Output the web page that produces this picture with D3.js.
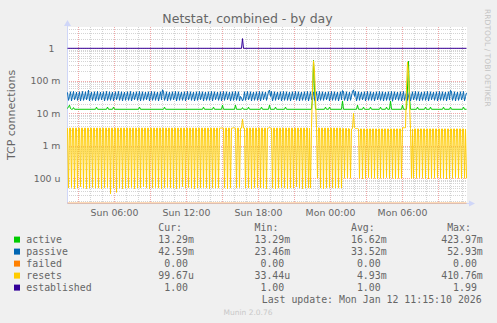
<!DOCTYPE html>
<html>
<head>
<meta charset="utf-8">
<script src="https://cdn.jsdelivr.net/npm/d3@7"></script>
<style>
body { margin: 0; background: #f0f0f0; }
svg { display: block; }
text { font-family: "DejaVu Sans", sans-serif; fill: #666; }
.mono text { font-family: "DejaVu Sans Mono", monospace; white-space: pre; }
</style>
</head>
<body>
<div id="chart"></div>
<script>
// 5 minute samples, first one at Sun 02:05
const startTime = new Date(2026, 0, 11, 2, 5);
const stepMs = 5 * 60 * 1000;

// passive, per sample, in milli
const passive = [
  44,25,33, 46,24,34, 47,26,32, 45,25,33, 46,24,34, 47,25,32, 46,26,33, 52,24,34, 45,25,33, 46,24,32,
  47,25,33, 45,26,34, 46,24,33, 47,25,32, 46,25,34, 45,24,33, 46,26,33, 47,25,32, 46,24,34, 45,25,33,
  46,25,33, 47,24,32, 45,26,34, 46,25,33, 47,24,33, 46,25,32, 45,26,34, 46,24,33, 47,25,32, 46,25,34,
  45,24,33, 46,26,52.9, 47,25,32, 46,24,34, 45,25,33, 46,26,32, 47,24,33, 46,25,34, 45,25,33, 46,24,32,
  47,26,33, 46,25,34, 45,24,32, 46,25,33, 47,26,34, 46,24,33, 45,25,32, 46,25,33, 47,24,34, 46,26,33,
  45,25,32, 46,24,33, 47,25,34, 46,26,33, 45,24,32, 46,25,33, 47,25,34, 46,24,33, 30,24,28, 46,25,33,
  47,26,32, 46,24,34, 45,25,33, 46,25,32, 47,24,33, 46,26,34, 45,25,33, 46,52,33, 47,24,32, 46,25,34,
  45,26,33, 46,24,32, 47,25,33, 46,25,34, 45,24,33, 46,26,32, 47,25,33, 46,24,34, 45,25,33, 46,25,32,
  47,24,33, 46,26,34, 45,25,33, 46,24,32, 47,25,33, 46,25,34, 45,26,33, 46,24,32, 47,25,33, 46,25,34,
  45,24,33, 46,26,50, 47,25,32, 46,24,33, 45,25,34, 46,52.5,33, 47,24,32, 46,25,34, 45,26,33, 46,24,32,
  47,25,33, 46,25,34, 45,24,33, 46,26,32, 47,25,33, 46,24,34, 45,25,33, 46,25,32, 47,23.5,33, 46,26,34,
  45,25,33, 46,24,32, 47,25,33, 46,25,34, 45,24,33, 46,26,32, 47,25,33, 46,24,34, 45,25,33, 46,25,32,
  47,24,33, 46,26,34, 45,25,33, 46,24,32, 47,25,33, 46,25,34, 45,24,33, 46,26,51, 47,25,32, 46,24,34,
  45,25,33, 46,26,32, 47,24,33, 42.59
];

// resets, per sample, in milli
const resets = [
  3.5,.05,3.5, 3.5,.052,3.5, 3.5,.048,3.5, 3.5,.05,3.5, 3.5,.055,3.5, 3.5,.05,3.5, 3.5,.048,3.5, 3.5,.05,3.5, 3.5,.052,3.5, 3.5,.05,3.5,
  3.5,.05,3.5, 3.5,.048,3.5, 3.5,.05,3.5, 3.5,.052,3.5, 3.5,.0334,3.5, 3.5,.05,3.5, 3.5,.037,3.5, 3.5,.05,3.5, 3.5,.048,3.5, 3.5,.05,3.5,
  3.5,.05,3.5, 3.5,.052,3.5, 3.5,.048,3.5, 3.5,.05,3.5, 3.5,.05,3.5, 3.5,.055,3.5, 3.5,.05,3.5, 3.5,.048,3.5, 3.5,.05,3.5, 3.5,.052,3.5,
  3.5,.05,3.5, 3.5,.048,3.5, 3.5,.05,3.5, 3.5,.052,3.5, 3.5,.05,3.5, 3.5,.05,3.5, 3.5,.048,3.5, 3.5,.05,3.5, 3.5,.055,3.5, 3.5,.05,3.5,
  3.5,.052,3.5, 3.5,.05,3.5, 3.5,.048,3.5, 3.5,.05,3.5, 3.5,.05,3.5, 3.5,.052,3.5, 3.5,.05,3.5, 3.5,.048,3.5, 3.5,.05,3.5, 3.5,.05,3.5,
  3.5,.05,3.5, 3.5,3.5,3.5, 3.5,.05,3.5, 3.5,.048,3.5, 3.5,.05,3.5, 3.5,3.6,3.5, 3.5,.05,3.5, 3.5,.052,3.5, 3.5,6.6,3.5, 3.5,.05,3.5,
  3.5,.05,3.5, 3.5,.048,3.5, 3.5,.05,3.5, 3.5,.052,3.5, 3.5,.05,3.5, 3.5,.05,3.5, 3.5,.048,3.5, 3.5,3.7,3.5, 3.5,.05,3.5, 3.5,.048,3.5,
  3.5,.05,3.5, 3.5,.052,3.5, 3.5,.05,3.5, 3.5,.048,3.5, 3.5,.05,3.5, 3.5,.05,3.5, 3.5,.055,3.5, 3.5,.05,3.5, 3.5,.048,3.5, 3.5,.05,3.5,
  3.5,.05,3.5, .05,3.6,60, 410.76,200,30, 3.6,.1,3.5, 3.5,.05,3.5, 3.5,.048,3.5, 3.5,.05,3.5, 3.5,.052,3.5, 3.5,.05,3.5, 3.5,.05,3.5,
  3.5,.05,3.5, 3.5,.05,3.4, 3.4,.1,3.4, 3.4,.1,3.4, 3.3,.1,3.3, 3.4,10.1,3.6, 3.4,3.4,3.4, 3.3,.1,3.3, 3.3,.095,3.3, 3.3,.1,3.3,
  3.3,.105,3.3, 3.3,.1,3.3, 3.3,.1,3.3, 3.3,.095,3.3, 3.3,.1,3.3, 3.3,.1,3.3, 3.3,.105,3.3, 3.3,.1,3.3, 3.3,.1,3.3, 3.3,.095,3.3,
  3.3,.1,3.3, 3.3,.1,3.6, 3.6,3.6,3.6, 60,380,180, 20,3.4,.1, 3.3,.1,3.3, 3.3,.1,3.3, 3.3,.105,3.3, 3.3,.1,3.3, 3.3,.1,3.3,
  3.3,.095,3.3, 3.3,.1,3.3, 3.3,.1,3.3, 3.3,.105,3.3, 3.3,.1,3.3, 3.3,.1,3.3, 3.3,.095,3.3, 3.3,.1,3.3, 3.3,.1,3.3, 3.3,.105,3.3,
  3.3,.1,3.3, 3.3,.1,3.3, 3.3,.1,3.3, .0997
];

// active, [sample, milli] read at the bumps
const active = [
  [0,14.0],[1,16.0],[2,17.8],[3,14.0],[4,13.3],[5,13.3],[6,15.0],[7,13.3],
  [28,13.3],[29,15.5],[30,13.3],[39,13.3],[40,15.5],[41,13.3],[45,13.3],[46,15.5],[47,13.3],
  [71,13.3],[72,15.5],[73,13.3],[96,13.3],[97,15.5],[98,13.3],[135,13.3],[136,15.5],[137,13.3],
  [145,13.3],[146,15.5],[147,13.3],[154,13.3],[155,17.8],[156,13.3],[167,13.3],[168,17.8],[169,13.3],
  [174,13.3],[175,15.0],[176,13.3],[180,13.3],[181,15.5],[182,13.3],[193,13.3],[194,15.5],[195,13.3],
  [201,13.3],[202,17.8],[203,13.3],[207,13.3],[208,15.5],[209,13.3],[217,13.3],[218,15.5],[219,13.3],
  [244,13.3],[245,30],[246,423.97],[247,60],[248,13.3],[257,13.3],[258,15.5],[259,13.3],[261,13.3],[262,15.5],[263,13.3],
  [274,13.3],[275,24],[276,13.3],[289,13.3],[290,17.8],[291,13.3],[295,13.3],[296,15.5],[297,13.3],
  [302,13.3],[303,15.5],[304,13.3],[312,13.3],[313,15.5],[314,13.3],[318,13.3],[319,15.5],[320,13.3],
  [322,13.3],[323,24],[324,13.3],[334,13.3],[335,17.8],[336,13.3],[339,13.3],[340,60],[341,400],[342,30],[343,13.3],
  [349,13.3],[350,15.5],[351,13.3],[357,13.3],[358,15.5],[359,13.3],[362,13.3],[363,15.5],[364,13.3],
  [375,13.3],[376,15.5],[377,13.3],[382,13.3],[383,15.5],[384,13.3],[395,13.3],[396,15.5],[397,13.3],[399,13.29]
];

// established, [sample, value]
const established = [[0,1],[174,1],[175,1.99],[176,1],[399,1]];
// failed stays at zero the whole day
const failed = [[0,0],[399,0]];

const yTickValues = [1, 0.1, 0.01, 0.001, 0.0001];
const yTickLabels = ["1", "100 m", "10 m", "1 m", "100 u"];

const seriesNames = ["active", "passive", "failed", "resets", "established"];
const seriesColors = ["#00cc00", "#0066b3", "#ff8000", "#ffcc00", "#330099"];
const curText = ["13.29m", "42.59m", "0.00", "99.67u", "1.00"];
const minText = ["13.29m", "23.46m", "0.00", "33.44u", "1.00"];
const avgText = ["16.62m", "33.52m", "0.00", "4.93m", "1.00"];
const maxText = ["423.97m", "52.93m", "0.00", "410.76m", "1.99"];

const W = 497, H = 323;
const pLeft = 67, pRight = 467, pTop = 27, pBottom = 203;

const svg = d3.select("#chart").append("svg").attr("width", W).attr("height", H);
svg.append("rect").attr("width", W).attr("height", H).attr("fill", "#f0f0f0");
svg.append("rect").attr("x", pLeft).attr("y", pTop).attr("width", pRight - pLeft).attr("height", pBottom - pTop).attr("fill", "#fff");

const t = i => new Date(startTime.getTime() + i * stepMs);
const endTime = t(399);

const x = d3.scaleTime().domain([startTime, endTime]).range([pLeft, pRight - 1]);
const y = d3.scaleLog().domain([1.738e-5, 4.523]).range([pBottom, pTop]);

const crisp = v => Math.round(v) + 0.5;

// horizontal grid
const grid = svg.append("g");
for (let d = -5; d <= 0; d++) {
  for (let m = 1; m <= 9; m++) {
    const v = m * Math.pow(10, d);
    const yy = y(v);
    if (yy < pTop || yy > pBottom - 1) continue;
    grid.append("line")
      .attr("x1", pLeft).attr("x2", pRight)
      .attr("y1", crisp(yy)).attr("y2", crisp(yy))
      .attr("stroke", m === 1 ? "#f2a8a8" : "#d4d4d4")
      .attr("stroke-dasharray", "1,1");
  }
}
// vertical grid
d3.timeHour.every(1).range(startTime, endTime).forEach(h => {
  const xx = crisp(x(h));
  grid.append("line")
    .attr("x1", xx).attr("x2", xx)
    .attr("y1", pTop).attr("y2", pBottom)
    .attr("stroke", h.getHours() % 3 === 0 ? "#f2a8a8" : "#d4d4d4")
    .attr("stroke-dasharray", "1,1");
});

// axes
svg.append("line").attr("x1", pLeft + 0.5).attr("x2", pLeft + 0.5).attr("y1", 24).attr("y2", pBottom + 1)
  .attr("stroke", "#cfd6f8");
svg.append("path").attr("d", `M${pLeft - 3},26L${pLeft + 0.5},20L${pLeft + 4},26Z`).attr("fill", "#cfd6f8");
svg.append("line").attr("x1", pLeft).attr("x2", 471).attr("y1", pBottom + 0.5).attr("y2", pBottom + 0.5)
  .attr("stroke", "#cfd6f8");
svg.append("path").attr("d", `M469,${pBottom - 2.5}L475,${pBottom + 0.5}L469,${pBottom + 3.5}Z`).attr("fill", "#cfd6f8");

// y tick labels
svg.append("g").selectAll("text").data(yTickValues).join("text")
  .attr("x", (d, i) => i === 0 ? 54.5 : 60.5)
  .attr("y", d => y(d) + 3.4)
  .attr("text-anchor", "end")
  .style("font-size", "9.4px")
  .text((d, i) => yTickLabels[i]);

// x tick labels
svg.append("g").selectAll("text")
  .data(d3.timeHour.every(6).range(startTime, endTime))
  .join("text")
  .attr("x", d => x(d) + 0.5)
  .attr("y", 215.5)
  .attr("text-anchor", "middle")
  .style("font-size", "9.4px")
  .text(d3.timeFormat("%a %H:%M"));

// series
svg.append("clipPath").attr("id", "plotclip").append("rect")
  .attr("x", pLeft).attr("y", pTop).attr("width", pRight - pLeft).attr("height", pBottom - pTop + 1);
const plot = svg.append("g").attr("clip-path", "url(#plotclip)");
const yv = v => v > 0 ? y(v) : pBottom;
const line = d3.line().x(d => x(d[0]) + 0.5).y(d => yv(d[1]));

const activeData = active.map(d => [t(d[0]), d[1] * 1e-3]);
const passiveData = passive.map((v, i) => [t(i), v * 1e-3]);
const failedData = failed.map(d => [t(d[0]), d[1]]);
const resetsData = resets.map((v, i) => [t(i), v * 1e-3]);
const establishedData = established.map(d => [t(d[0]), d[1]]);

[activeData, passiveData, failedData, resetsData, establishedData].forEach((data, k) => {
  plot.append("path")
    .datum(data)
    .attr("d", line)
    .attr("fill", "none")
    .attr("stroke", seriesColors[k])
    .attr("stroke-opacity", k === 2 ? 0.55 : 1)
    .attr("stroke-width", 1);
});

// title and side texts
svg.append("text").attr("x", 247.5).attr("y", 23.4).attr("text-anchor", "middle")
  .style("font-size", "12.5px").text("Netstat, combined - by day");
svg.append("text").attr("transform", "translate(15,115) rotate(-90)").attr("text-anchor", "middle")
  .style("font-size", "11px").text("TCP connections");
svg.append("text").attr("transform", "translate(485,9) rotate(90)")
  .style("font-size", "7.6px").style("fill", "#c4c4c4").text("RRDTOOL / TOBI OETIKER");
svg.append("text").attr("x", 248).attr("y", 314.5).attr("text-anchor", "middle")
  .style("font-size", "7.5px").style("fill", "#c8c8c8").text("Munin 2.0.76");

// legend
const fs = 9.9, cw = 0.602 * fs;
const legend = svg.append("g").attr("class", "mono").style("font-size", fs + "px");
const cols = [152.3, 248.6, 345, 441.2];
const pad = s => {
  const m = s.match(/^([\d.]+)(\D?)$/);
  return m[1].padStart(6, " ") + (m[2] || " ");
};
["Cur:", "Min:", "Avg:", "Max:"].forEach((h, c) => {
  legend.append("text").attr("x", cols[c] + cw).attr("y", 230.6).text(h);
});
seriesNames.forEach((name, r) => {
  const by = 242.6 + r * 12;
  legend.append("rect").attr("x", 14).attr("y", by - 6).attr("width", 6).attr("height", 6)
    .attr("fill", seriesColors[r]);
  legend.append("text").attr("x", 26.3).attr("y", by).text(name);
  [curText, minText, avgText, maxText].forEach((col, c) => {
    legend.append("text").attr("x", cols[c]).attr("y", by).text(pad(col[r]));
  });
});
legend.append("text").attr("x", 261.7).attr("y", 302.6).text("Last update: Mon Jan 12 11:15:10 2026");
</script>
</body>
</html>
